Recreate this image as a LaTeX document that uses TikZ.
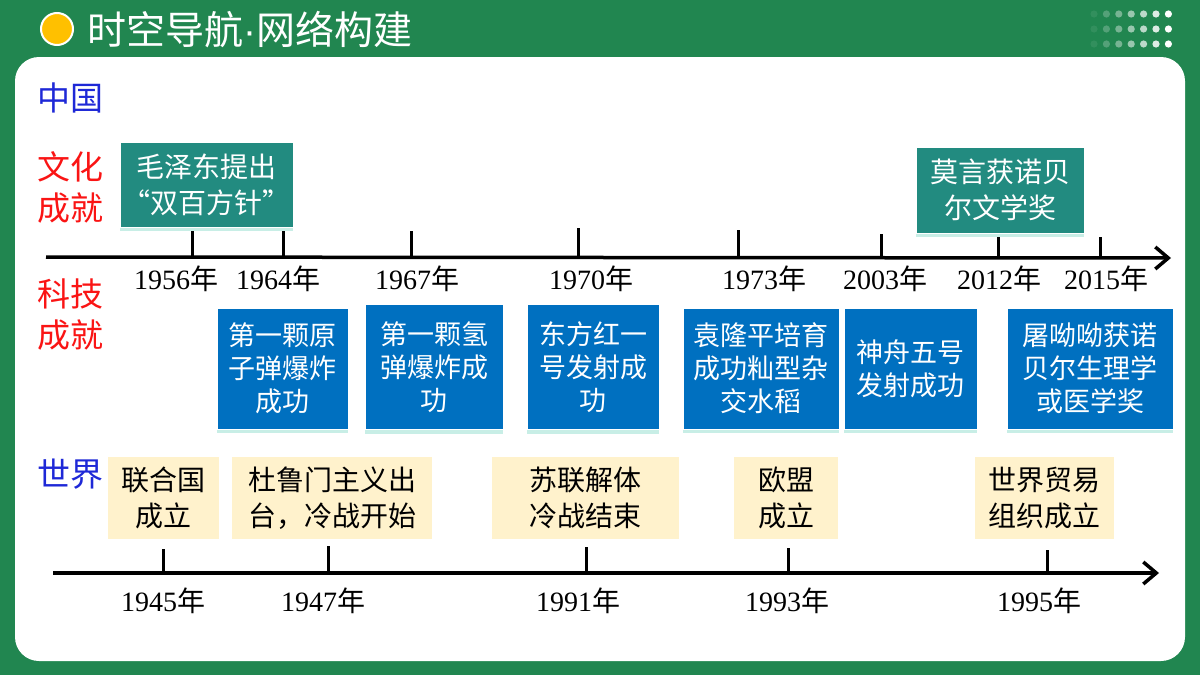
\documentclass[tikz,border=0pt]{standalone}
\usepackage{fontspec}
\newfontfamily\cjk{Noto Sans CJK SC}
\newfontfamily\yrfont{Liberation Serif}
\newfontfamily\dotfont{Liberation Sans}
\usetikzlibrary{arrows.meta,shadows}
\definecolor{bggreen}{RGB}{33,134,80}
\definecolor{tealbox}{RGB}{34,139,128}
\definecolor{bluebox}{RGB}{0,112,192}
\definecolor{beige}{RGB}{255,242,204}
\definecolor{gold}{RGB}{255,192,0}
\definecolor{lblblue}{RGB}{30,40,215}
\definecolor{lblred}{RGB}{250,20,20}
\definecolor{glow}{RGB}{200,238,230}
\newcommand\yr[1]{{\yrfont #1}{\cjk 年}}
\begin{document}
\begin{tikzpicture}[x=1pt,y=-1pt,
  box/.style={inner sep=0pt, align=center, font=\cjk\fontsize{27}{33}\selectfont},
  tealnode/.style={box, fill=tealbox, text=white, draw=white, line width=0.8pt,
     font=\cjk\fontsize{28}{36}\selectfont,
     drop shadow={shadow xshift=0pt, shadow yshift=-4pt, fill=glow, opacity=1}},
  bluenode/.style={box, fill=bluebox, text=white, draw=white, line width=0.8pt,
     drop shadow={shadow xshift=0pt, shadow yshift=-4pt, fill=glow, opacity=1}},
  beigenode/.style={box, fill=beige, text=black, font=\cjk\fontsize{28}{36}\selectfont},
  yearlbl/.style={inner sep=0pt, text=black, font=\fontsize{28}{30}\selectfont},
  sidelbl/.style={inner sep=0pt, anchor=west, align=left, font=\cjk\fontsize{33}{41}\selectfont},
  axis/.style={line width=3.5pt, -{Straight Barb[length=13pt,width=22pt,line width=3.5pt]}},
  tick/.style={line width=3pt}
]
\useasboundingbox (0,0) rectangle (1200,675);
% background
\fill[bggreen] (0,0) rectangle (1200,675);
\fill[white, rounded corners=24pt] (15,57) rectangle (1185,661);
% header
\node[circle, fill=gold, draw=white, line width=2pt, minimum size=32pt, inner sep=0pt] (sun) at (57,29) {};
\node[inner sep=0pt, anchor=west, text=white, font=\cjk\fontsize{39}{42}\selectfont] (title) at (87,30) {时空导航{\dotfont\fontsize{39}{42}\selectfont ·}网络构建};
\foreach \c [count=\i] in {1,2,3,4,5,6,7}{
  \foreach \r in {14,29,44}{
    \pgfmathsetmacro\op{0.08+0.92*(\i-1)/6}
    \fill[white, opacity=\op] ({1094+12.4*(\i-1)},\r) circle (3.6pt);
  }
}
% side labels
\node[sidelbl, text=lblblue] (china) at (37,98) {中国};
\node[sidelbl, text=lblred] (culture) at (37,187) {文化\\成就};
\node[sidelbl, text=lblred] (tech) at (37,315) {科技\\成就};
\node[sidelbl, text=lblblue] (world) at (37,474) {世界};
% top timeline
\coordinate (ts) at (46,257);
\coordinate (te) at (1171,258);
\draw[axis] (ts) -- (te);
\foreach \x/\top/\n in {192/228/a,283/229/b,411/231/c,578/228/d,738/230/e,881/234/f,998/232/g,1100/237/h}{
  \coordinate (tt\n) at (\x,\top);
  \draw[tick] (tt\n) -- (\x,258);
}
\node[yearlbl] (y1956) at (176,279) {\yr{1956}};
\node[yearlbl] (y1964) at (278,279) {\yr{1964}};
\node[yearlbl] (y1967) at (417,279) {\yr{1967}};
\node[yearlbl] (y1970) at (591,279) {\yr{1970}};
\node[yearlbl] (y1973) at (764,279) {\yr{1973}};
\node[yearlbl] (y2003) at (885,279) {\yr{2003}};
\node[yearlbl] (y2012) at (999,279) {\yr{2012}};
\node[yearlbl] (y2015) at (1106,279) {\yr{2015}};
% culture boxes
\node[tealnode, minimum width=173pt, minimum height=85pt] (mao) at (206.5,184.5) {毛泽东提出\\“双百方针”};
\node[tealnode, minimum width=168pt, minimum height=86pt] (moyan) at (1000,190) {莫言获诺贝\\尔文学奖};
% tech boxes
\node[bluenode, minimum width=131pt, minimum height=121pt] (atom) at (282.5,368.5) {第一颗原\\子弹爆炸\\成功};
\node[bluenode, minimum width=138pt, minimum height=125pt] (hbomb) at (434,367) {第一颗氢\\弹爆炸成\\功};
\node[bluenode, minimum width=132pt, minimum height=125pt] (dfh) at (593,367) {东方红一\\号发射成\\功};
\node[bluenode, minimum width=156pt, minimum height=121pt] (rice) at (761,368.5) {袁隆平培育\\成功籼型杂\\交水稻};
\node[bluenode, minimum width=133pt, minimum height=121pt] (sz5) at (910.5,368.5) {神舟五号\\发射成功};
\node[bluenode, minimum width=166pt, minimum height=121pt] (tu) at (1090,368.5) {屠呦呦获诺\\贝尔生理学\\或医学奖};
% world boxes
\node[beigenode, minimum width=111pt, minimum height=82pt] (un) at (163.5,498) {联合国\\成立};
\node[beigenode, minimum width=200pt, minimum height=82pt] (truman) at (332,498) {杜鲁门主义出\\台，冷战开始};
\node[beigenode, minimum width=187pt, minimum height=82pt] (ussr) at (585.5,498) {苏联解体\\冷战结束};
\node[beigenode, minimum width=104pt, minimum height=82pt] (eu) at (786,498) {欧盟\\成立};
\node[beigenode, minimum width=139pt, minimum height=82pt] (wto) at (1044.5,498) {世界贸易\\组织成立};
% bottom timeline
\coordinate (bs) at (53,573);
\coordinate (be) at (1159,573);
\draw[axis] (bs) -- (be);
\foreach \x/\top/\n in {163/549/a,328/546/b,586/547/c,788/548/d,1047/550/e}{
  \coordinate (bt\n) at (\x,\top);
  \draw[tick] (bt\n) -- (\x,574);
}
\node[yearlbl] (y1945) at (163,601) {\yr{1945}};
\node[yearlbl] (y1947) at (323,601) {\yr{1947}};
\node[yearlbl] (y1991) at (578,601) {\yr{1991}};
\node[yearlbl] (y1993) at (787,601) {\yr{1993}};
\node[yearlbl] (y1995) at (1039,601) {\yr{1995}};
\end{tikzpicture}
\end{document}
